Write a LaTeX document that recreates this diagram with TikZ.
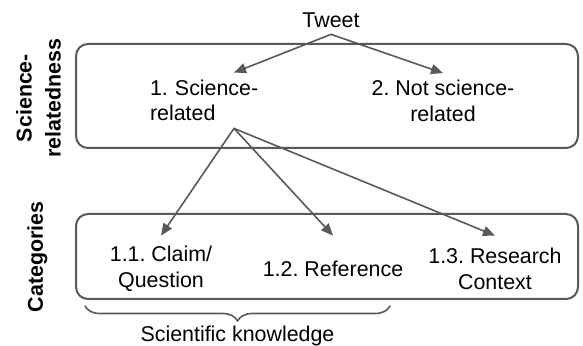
\documentclass[tikz,border=0pt]{standalone}
\usepackage{fontspec}
\setmainfont{Liberation Sans}
\usetikzlibrary{arrows.meta,decorations.pathreplacing}
\definecolor{linegray}{HTML}{595959}
\frenchspacing
\tikzset{
  panel/.style={draw=linegray, line width=1pt, rounded corners=6pt},
  conn/.style={draw=linegray, line width=0.8pt, -{Triangle[length=6pt,width=5pt]}},
  rowlabel/.style={rotate=90, align=center, inner sep=0pt, font=\bfseries\fontsize{10.7}{14.5}\selectfont},
}
\begin{document}
\begin{tikzpicture}[x=0.5pt, y=-0.5pt, font=\fontsize{10.7}{12.8}\selectfont, line join=round, line cap=round]
\useasboundingbox (0,0) rectangle (583,346);
\draw[panel] (76,44) rectangle (578,148);
\draw[panel] (76,214) rectangle (578,299);
\node[inner sep=3pt] (tweet) at (331,20.5) {Tweet};
\node[inner sep=0pt, minimum height=27.5pt, text width=84pt, align=left] (sci) at (234,100.5) {1. Science-\\related};
\node[inner sep=0pt, minimum height=27.5pt, align=center] (notsci) at (443,101) {2. Not science-\\related};
\node[inner sep=0pt, minimum height=33pt, align=center] (claim) at (161,269) {1.1. Claim/\\Question};
\node[inner sep=0pt, minimum height=33pt, align=center] (ref) at (333,269) {1.2. Reference};
\node[inner sep=0pt, minimum height=33pt, align=center] (ctx) at (495,269) {1.3. Research\\Context};
\draw[conn] (tweet.south) -- (sci.north);
\draw[conn] (tweet.south) -- (notsci.north);
\draw[conn] (sci.south) -- (claim.north);
\draw[conn] (sci.south) -- (ref.north);
\draw[conn] (sci.south) -- (ctx.north);
\node[rowlabel] (relatedness) at (38.5,98) {Science-\\relatedness};
\node[rowlabel] (categories) at (37.5,257) {Categories};
\draw[linegray, line width=0.8pt, decorate, decoration={brace, amplitude=7.5pt}] (390,306) -- (85,306);
\node (knowledge) at (237.5,336) {Scientific knowledge};
\end{tikzpicture}
\end{document}
